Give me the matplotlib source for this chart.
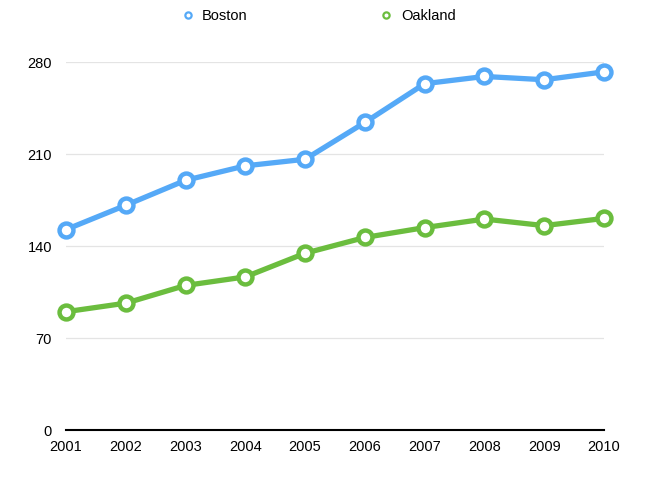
import matplotlib.pyplot as plt
from matplotlib.lines import Line2D

plt.rcParams['font.family'] = ['Liberation Sans', 'DejaVu Sans']

years = [2001, 2002, 2003, 2004, 2005, 2006, 2007, 2008, 2009, 2010]
boston = [152.5, 171, 190, 201, 206, 234, 263.5, 269, 266.5, 272.5]
oakland = [90, 96.5, 110, 116.5, 134.5, 146.5, 154, 160.5, 155.5, 161]
y_ticks = [0, 70, 140, 210, 280]

blue = '#55a9f7'
green = '#6bbd3e'

fig = plt.figure(figsize=(6.67, 4.79), dpi=100)
ax = fig.add_axes([66 / 667, 1 - 430 / 479, (604 - 66) / 667, (430 - 62) / 479])

for vals, col in [(boston, blue), (oakland, green)]:
    ax.plot(years, vals, color=col, lw=3.8, marker='o', markersize=10,
            markerfacecolor='white', markeredgecolor=col, markeredgewidth=3.2,
            clip_on=False, zorder=3)

ax.set_xlim(2001, 2010)
ax.set_ylim(0, 280)
ax.set_xticks(years)
ax.set_yticks(y_ticks)
ax.tick_params(axis='both', length=0, labelsize=10.5, colors='black')
ax.tick_params(axis='x', pad=7)
ax.tick_params(axis='y', pad=10)
ax.grid(axis='y', color='#e4e4e4', lw=0.9)
ax.set_axisbelow(True)
for s in ['top', 'right', 'left']:
    ax.spines[s].set_visible(False)
ax.spines['bottom'].set_color('black')
ax.spines['bottom'].set_linewidth(1.5)
ax.spines['bottom'].set_zorder(4)

handles = [Line2D([], [], ls='none', marker='o', markersize=4.5, markerfacecolor='white',
                  markeredgecolor=c, markeredgewidth=1.6) for c in (blue, green)]
fig.legend(handles, ['Boston', 'Oakland'], loc='center', bbox_to_anchor=(318 / 667, 1 - 16 / 479),
           ncol=2, frameon=False, fontsize=10.5, handlelength=1.0, handletextpad=0.5,
           columnspacing=9.0)

fig.savefig('out.png', dpi=100)
